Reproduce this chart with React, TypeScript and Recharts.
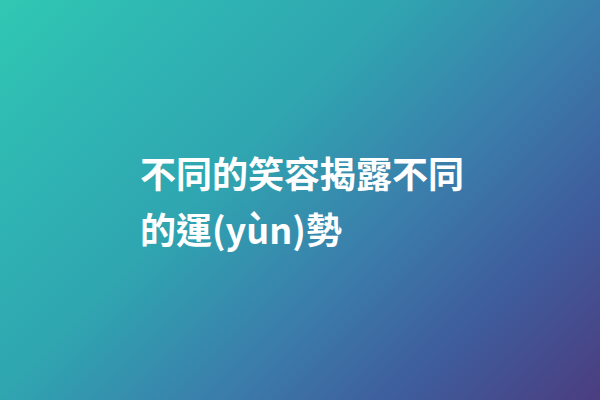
import React from "react";
import { Surface, Layer, Text } from "recharts";

const titleLines: string[] = ["不同的笑容揭露不同", "的運(yùn)勢"];
const gradientOffsets: number[] = [0, 0.2, 0.4, 0.6, 0.8, 1];
const gradientColors: string[] = ["#30c8b3", "#2fb5b3", "#2fa5b0", "#3a80ac", "#3f5c9c", "#4b3d80"];

const W = 600;
const H = 400;

export default function App() {
  return (
    <div style={{ width: W, height: H }}>
      <style>{`body{margin:0 !important;}`}</style>
      <Surface width={W} height={H} style={{ display: "block" }}>
        <defs>
          <linearGradient id="bg" gradientUnits="userSpaceOnUse" x1={0} y1={0} x2={500} y2={500}>
            {gradientOffsets.map((o, i) => (
              <stop key={i} offset={o} stopColor={gradientColors[i]} />
            ))}
          </linearGradient>
        </defs>
        <Layer>
          <rect x={0} y={0} width={W} height={H} fill="url(#bg)" />
          {titleLines.map((line, i) => (
            <Text
              key={i}
              x={140}
              y={188 + i * 56}
              textAnchor="start"
              verticalAnchor="end"
              fill="#ffffff"
              style={{ fontFamily: '"Noto Sans CJK TC", "Noto Sans CJK SC", sans-serif', fontWeight: 700, fontSize: 36 }}
            >
              {line}
            </Text>
          ))}
        </Layer>
      </Surface>
    </div>
  );
}
